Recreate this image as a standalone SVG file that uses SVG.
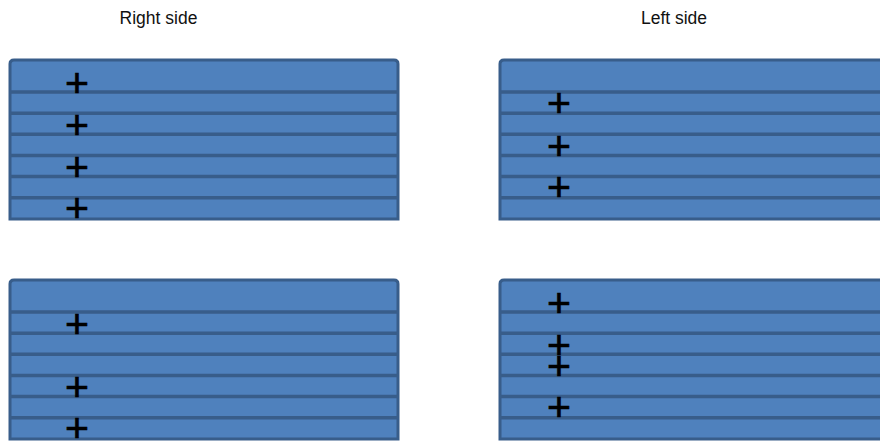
<svg xmlns="http://www.w3.org/2000/svg" width="880" height="441" viewBox="0 0 880 441">
<style>
.blk{fill:#4F81BD;stroke:#385D8A;stroke-width:3}
.div{stroke:#385D8A;stroke-width:3.5;fill:none}
.plus{font-family:"Liberation Sans",Arial,sans-serif;font-size:41px;fill:#000;stroke:#000;stroke-width:0.7;text-anchor:middle}
.title{font-family:"Liberation Sans",Arial,sans-serif;font-size:17.5px;fill:#111;text-anchor:middle}
</style>
<defs>
<g id="rows">
<line class="div" x1="0" y1="32" x2="900" y2="32"/>
<line class="div" x1="0" y1="53.2" x2="900" y2="53.2"/>
<line class="div" x1="0" y1="74.3" x2="900" y2="74.3"/>
<line class="div" x1="0" y1="95.5" x2="900" y2="95.5"/>
<line class="div" x1="0" y1="116.6" x2="900" y2="116.6"/>
<line class="div" x1="0" y1="137.8" x2="900" y2="137.8"/>
</g>
</defs>
<rect width="880" height="441" fill="#fff"/>
<text class="title" x="158.5" y="24.3">Right side</text>
<text class="title" x="674" y="24.3">Left side</text>

<g id="block-top-left">
<path class="blk" d="M10,219 V64 Q10,60 14,60 H394 Q398,60 398,64 V219 Z"/>
<svg x="10" y="60" width="388" height="160" overflow="hidden"><use href="#rows"/></svg>
<text class="plus" x="77" y="96.8">+</text>
<text class="plus" x="77" y="138.5">+</text>
<text class="plus" x="77" y="180.5">+</text>
<text class="plus" x="77" y="222.2">+</text>
</g>

<g id="block-top-right">
<path class="blk" d="M500,219 V64 Q500,60 504,60 H890 V219 Z"/>
<svg x="500" y="60" width="390" height="160" overflow="hidden"><use href="#rows"/></svg>
<text class="plus" x="559" y="117.2">+</text>
<text class="plus" x="559" y="159.5">+</text>
<text class="plus" x="559" y="201.2">+</text>
</g>

<g id="block-bottom-left">
<path class="blk" d="M10,439 V284 Q10,280 14,280 H394 Q398,280 398,284 V439 Z"/>
<svg x="10" y="280" width="388" height="160" overflow="hidden"><use href="#rows"/></svg>
<text class="plus" x="77" y="337.8">+</text>
<text class="plus" x="77" y="400.5">+</text>
<text class="plus" x="77" y="442.2">+</text>
</g>

<g id="block-bottom-right">
<path class="blk" d="M500,439 V284 Q500,280 504,280 H890 V439 Z"/>
<svg x="500" y="280" width="390" height="160" overflow="hidden"><use href="#rows"/></svg>
<text class="plus" x="559" y="316.8">+</text>
<text class="plus" x="559" y="358.5">+</text>
<text class="plus" x="559" y="379.5">+</text>
<text class="plus" x="559" y="421.2">+</text>
</g>
<g id="connectors"/>
</svg>
